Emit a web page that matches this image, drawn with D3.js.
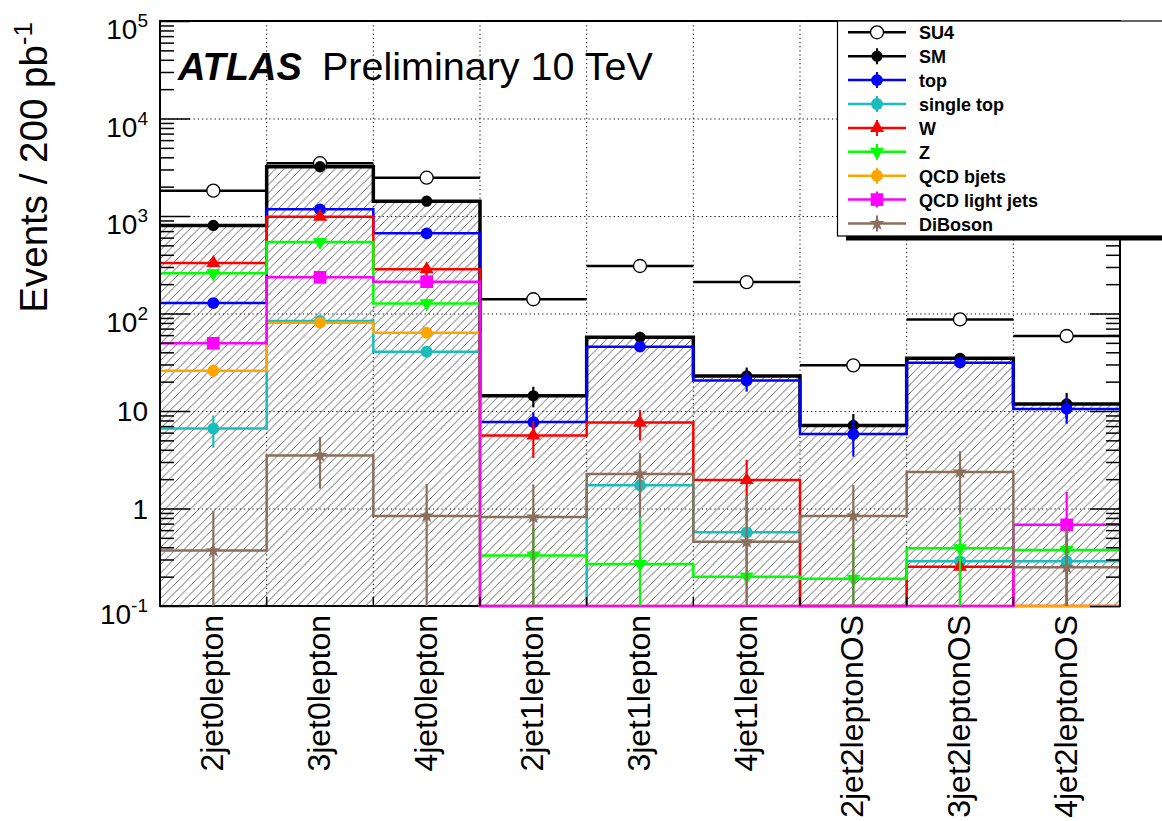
<!DOCTYPE html>
<html>
<head>
<meta charset="utf-8">
<script src="https://cdn.jsdelivr.net/npm/d3@7"></script>
<style>
  body { margin: 0; background: #fff; }
  text { font-family: "Liberation Sans", Arial, Helvetica, sans-serif; fill: #000; }
</style>
</head>
<body>
<svg id="chart" width="1162" height="821"></svg>
<script>
/* ATLAS preliminary: expected events per channel, 200 pb-1 at 10 TeV.
   Overlaid (not stacked) background histograms, SM total hatched, SU4 signal as points. */

const categories = ["2jet0lepton", "3jet0lepton", "4jet0lepton", "2jet1lepton", "3jet1lepton",
  "4jet1lepton", "2jet2leptonOS", "3jet2leptonOS", "4jet2leptonOS"];

// values (0 = empty bin, drawn on the lower edge)
const su4 = [1820, 3480, 2470, 140, 307, 210, 29.4, 87, 58.8];
const sm = [800, 3200, 1420, 14.3, 57, 22.9, 7.1, 34.7, 11.8];
const topQuark = [128, 1170, 664, 7.7, 45.7, 20.5, 5.8, 31.3, 10.5];
const singleTop = [6.6, 84, 40.5, 0, 1.73, 0.57, 0, 0.287, 0.287];
const wJets = [330, 985, 284, 5.6, 7.6, 1.96, 0, 0.253, 0];
const zJets = [258, 541, 127, 0.33, 0.27, 0.2, 0.19, 0.39, 0.375];
const qcdB = [25.9, 80.5, 63.5, 0, 0, 0, 0, 0, 0];
const qcdLight = [49.5, 235, 212, 0, 0, 0, 0, 0, 0.68];
const diboson = [0.37, 3.5, 0.84, 0.82, 2.26, 0.457, 0.84, 2.37, 0.25];

// symmetric statistical errors
const smErr = [40, 110, 80, 3.4, 8, 5, 2.2, 4.5, 3.5];
const topErr = [15, 60, 40, 2, 4, 4.7, 2.4, 3, 3.1];
const singleTopErr = [2.4, 8, 5, 0, 1.0, 0.3, 0, 0.2, 0.2];
const wErr = [30, 70, 40, 2.3, 2.6, 1.2, 0, 0.3, 0];
const zErr = [25, 40, 15, 0.3, 0.5, 0.25, 0.3, 0.43, 0.3];
const qcdBErr = [4, 6, 6, 0, 0, 0, 0, 0, 0];
const qcdLightErr = [6, 20, 20, 0, 0, 0, 0, 0, 0.8];
const dibosonErr = [0.58, 1.9, 0.95, 0.95, 1.44, 0.9, 0.9, 1.5, 0.4];

const legendNames = ["SU4", "SM", "top", "single top", "W", "Z", "QCD bjets", "QCD light jets", "DiBoson"];
const yMajorTicks = [0.1, 1, 10, 100, 1000, 10000, 100000];
const yTickLabels = [["10", "-1"], ["1", ""], ["10", ""], ["10", "2"], ["10", "3"], ["10", "4"], ["10", "5"]];

const margin = { top: 21, right: 42, bottom: 215, left: 160 },
  width = 1162 - margin.left - margin.right,
  height = 821 - margin.top - margin.bottom;

const svg = d3.select("#chart");
svg.append("rect").attr("width", 1162).attr("height", 821).attr("fill", "#fff");

// hatch for the SM total
const pattern = svg.append("defs").append("pattern")
  .attr("id", "hatch")
  .attr("patternUnits", "userSpaceOnUse")
  .attr("width", 8.5)
  .attr("height", 8.5);
pattern.append("path")
  .attr("d", "M0,8.5 L8.5,0 M-2,2 L2,-2 M6.5,10.5 L10.5,6.5")
  .attr("stroke", "#333")
  .attr("stroke-width", 0.75);

const chart = svg.append("g").attr("transform", `translate(${margin.left},${margin.top})`);

const x = d3.scaleBand().domain(categories).range([0, width]).padding(0);
const y = d3.scaleLog().domain([0.1, 1e5]).range([height, 0]);
const yv = (v) => Math.min(y(Math.max(v, 0.1)), height);

// minor log ticks 2..9 per decade
const yMinorTicks = [];
for (let e = -1; e < 5; e++) {
  for (let k = 2; k <= 9; k++) yMinorTicks.push(k * Math.pow(10, e));
}

// grid
chart.append("g")
  .call(d3.axisLeft(y).tickValues([1, 10, 100, 1000, 10000]).tickSize(-width).tickFormat(""))
  .call((g) => g.select(".domain").remove())
  .selectAll("line")
  .attr("stroke", "#000")
  .attr("stroke-width", 1)
  .attr("stroke-dasharray", "1.2,3");

const edges = categories.slice(1).map((c) => x(c));
chart.append("g")
  .selectAll("line")
  .data(edges)
  .join("line")
  .attr("x1", (d) => d)
  .attr("x2", (d) => d)
  .attr("y1", 0)
  .attr("y2", height)
  .attr("stroke", "#000")
  .attr("stroke-width", 1)
  .attr("stroke-dasharray", "1.2,3");

// frame (bottom edge stays under the empty-bin lines)
chart.append("rect")
  .attr("width", width)
  .attr("height", height)
  .attr("fill", "none")
  .attr("stroke", "#000")
  .attr("stroke-width", 2);

const stepPoints = (vals) =>
  categories.map((c, i) => [x(c), vals[i]]).concat([[width, vals[vals.length - 1]]]);

const area = d3.area().curve(d3.curveStepAfter).x((d) => d[0]).y0(height).y1((d) => yv(d[1]));
const line = d3.line().curve(d3.curveStepAfter).x((d) => d[0]).y((d) => yv(d[1]));

chart.append("path").datum(stepPoints(sm)).attr("d", area).attr("fill", "url(#hatch)");

// SU4 signal: horizontal bars across the bin + open circles
const su4g = chart.append("g");
su4g.selectAll("line")
  .data(su4)
  .join("line")
  .attr("x1", (d, i) => x(categories[i]))
  .attr("x2", (d, i) => x(categories[i]) + x.bandwidth())
  .attr("y1", (d) => yv(d))
  .attr("y2", (d) => yv(d))
  .attr("stroke", "#000")
  .attr("stroke-width", 2.5);
su4g.selectAll("circle")
  .data(su4)
  .join("circle")
  .attr("cx", (d, i) => x(categories[i]) + x.bandwidth() / 2)
  .attr("cy", (d) => yv(d))
  .attr("r", 6.5)
  .attr("fill", "#fff")
  .attr("stroke", "#000")
  .attr("stroke-width", 1.3);

const symTriUp = d3.symbol().type(d3.symbolTriangle).size(85)();
const symCircle = d3.symbol().type(d3.symbolCircle).size(110)();
const symSquare = d3.symbol().type(d3.symbolSquare).size(160)();
const symStar = d3.symbol().type(d3.symbolStar).size(70)();

const series = [
  { values: sm, errors: smErr, color: "#000000", width: 3.5, sym: d3.symbol().type(d3.symbolCircle).size(100)(), rot: 0 },
  { values: topQuark, errors: topErr, color: "#0000ff", width: 2.5, sym: symCircle, rot: 0 },
  { values: singleTop, errors: singleTopErr, color: "#1abcbc", width: 2.5, sym: symCircle, rot: 0 },
  { values: wJets, errors: wErr, color: "#ff0000", width: 2.5, sym: symTriUp, rot: 0 },
  { values: zJets, errors: zErr, color: "#00ff00", width: 2.5, sym: symTriUp, rot: 180 },
  { values: qcdB, errors: qcdBErr, color: "#ffa500", width: 2.5, sym: symCircle, rot: 0 },
  { values: qcdLight, errors: qcdLightErr, color: "#ff00ff", width: 2.5, sym: symSquare, rot: 0 },
  { values: diboson, errors: dibosonErr, color: "#8b6f5c", width: 2.5, sym: symStar, rot: 0 },
];

// step lines, SM first so the backgrounds sit on top of it
series.forEach((s) => {
  chart.append("path")
    .datum(stepPoints(s.values))
    .attr("d", line)
    .attr("fill", "none")
    .attr("stroke", s.color)
    .attr("stroke-width", s.width);
});

// error bars and markers (empty bins get none)
series.forEach((s) => {
  const pts = s.values.map((v, i) => ({ v: v, e: s.errors[i], c: categories[i] })).filter((d) => d.v > 0.1);
  const g = chart.append("g");
  g.selectAll("line")
    .data(pts)
    .join("line")
    .attr("x1", (d) => x(d.c) + x.bandwidth() / 2)
    .attr("x2", (d) => x(d.c) + x.bandwidth() / 2)
    .attr("y1", (d) => yv(d.v + d.e))
    .attr("y2", (d) => (d.v - d.e > 0.1 ? yv(d.v - d.e) : height))
    .attr("stroke", s.color)
    .attr("stroke-width", 2.2);
  g.selectAll("path")
    .data(pts)
    .join("path")
    .attr("d", s.sym)
    .attr("transform", (d) => `translate(${x(d.c) + x.bandwidth() / 2},${yv(d.v)}) rotate(${s.rot})`)
    .attr("fill", s.color);
});

// axes ticks, pointing into the frame
const tickStyle = (g) => {
  g.select(".domain").remove();
  g.selectAll("line").attr("stroke", "#000").attr("stroke-width", 1.5);
};
chart.append("g").call(d3.axisLeft(y).tickValues(yMinorTicks).tickSize(-14).tickFormat("")).call(tickStyle);
chart.append("g").call(d3.axisLeft(y).tickValues(yMajorTicks).tickSize(-30).tickFormat("")).call(tickStyle);
chart.append("g").attr("transform", `translate(${width},0)`)
  .call(d3.axisRight(y).tickValues(yMinorTicks).tickSize(-14).tickFormat("")).call(tickStyle);
chart.append("g").attr("transform", `translate(${width},0)`)
  .call(d3.axisRight(y).tickValues(yMajorTicks).tickSize(-30).tickFormat("")).call(tickStyle);
chart.append("g")
  .selectAll("line")
  .data(edges)
  .join("line")
  .attr("x1", (d) => d)
  .attr("x2", (d) => d)
  .attr("y1", height)
  .attr("y2", height - 9)
  .attr("stroke", "#000")
  .attr("stroke-width", 1.5);

// redraw left / top / right frame edges above the histograms
chart.append("path")
  .attr("d", `M0,${height} V0 H${width} V${height}`)
  .attr("fill", "none")
  .attr("stroke", "#000")
  .attr("stroke-width", 2);

// y tick labels
yMajorTicks.forEach((v, i) => {
  const ty = margin.top + y(v);
  const lab = yTickLabels[i];
  const t = svg.append("text")
    .attr("x", 148)
    .attr("y", lab[1] ? ty + 18 : ty + 10)
    .attr("text-anchor", "end")
    .attr("font-size", 28);
  t.append("tspan").text(lab[0]);
  if (lab[1]) t.append("tspan").attr("dy", -12).attr("font-size", 19).text(lab[1]);
});

// category labels
svg.append("g")
  .selectAll("text")
  .data(categories)
  .join("text")
  .attr("transform", (d) => `translate(${margin.left + x(d) + x.bandwidth() / 2},615) rotate(-90)`)
  .attr("y", 10)
  .attr("text-anchor", "end")
  .attr("font-size", 32)
  .text((d) => d);

// y axis title
const yTitle = svg.append("text")
  .attr("transform", "translate(47,22) rotate(-90)")
  .attr("text-anchor", "end")
  .attr("font-size", 38.5);
yTitle.append("tspan").text("Events / 200 pb");
yTitle.append("tspan").attr("dy", -15).attr("font-size", 26).text("-1");

// ATLAS label
svg.append("text")
  .attr("x", 178)
  .attr("y", 80)
  .attr("font-size", 38)
  .attr("font-weight", "bold")
  .attr("font-style", "italic")
  .text("ATLAS");
svg.append("text")
  .attr("x", 322)
  .attr("y", 80)
  .attr("font-size", 39.5)
  .text("Preliminary 10 TeV");

// legend
const legend = svg.append("g");
legend.append("rect").attr("x", 846).attr("y", 236).attr("width", 330).attr("height", 4.5).attr("fill", "#000");
legend.append("rect")
  .attr("x", 837.5)
  .attr("y", 21)
  .attr("width", 340)
  .attr("height", 215)
  .attr("fill", "#fff")
  .attr("stroke", "#000")
  .attr("stroke-width", 1.2);

const legendColors = ["#000000"].concat(series.map((s) => s.color));
legendNames.forEach((name, i) => {
  const ly = 32.3 + i * 23.9;
  const row = legend.append("g");
  row.append("line")
    .attr("x1", 848).attr("x2", 906)
    .attr("y1", ly).attr("y2", ly)
    .attr("stroke", legendColors[i])
    .attr("stroke-width", 2.5);
  if (i === 0) {
    row.append("circle")
      .attr("cx", 877).attr("cy", ly).attr("r", 6.5)
      .attr("fill", "#fff").attr("stroke", "#000").attr("stroke-width", 1.3);
  } else {
    const s = series[i - 1];
    row.append("line")
      .attr("x1", 877).attr("x2", 877)
      .attr("y1", ly - 8).attr("y2", ly + 8)
      .attr("stroke", s.color)
      .attr("stroke-width", 2);
    row.append("path")
      .attr("d", s.sym)
      .attr("transform", `translate(877,${ly}) rotate(${s.rot})`)
      .attr("fill", s.color);
  }
  row.append("text")
    .attr("x", 919)
    .attr("y", ly + 7)
    .attr("font-size", 18)
    .attr("font-weight", "bold")
    .text(name);
});
</script>
</body>
</html>
